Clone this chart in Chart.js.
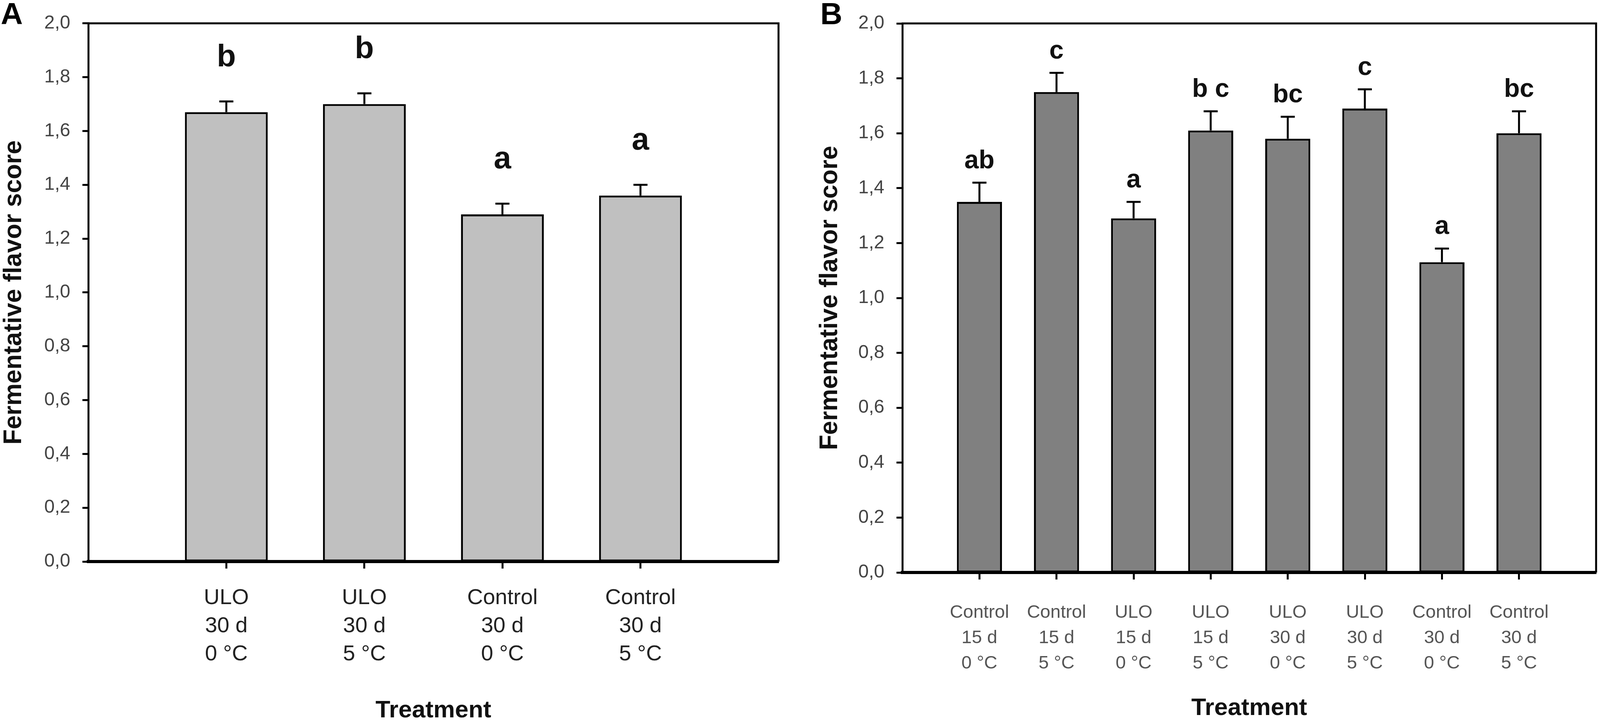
<!DOCTYPE html>
<html>
<head>
<meta charset="utf-8">
<script src="https://cdn.jsdelivr.net/npm/chart.js@4.4.1/dist/chart.umd.min.js"></script>
<style>
  body { margin: 0; background: #fff; overflow: hidden; }
  #page { position: relative; width: 100vw; height: 1854px; overflow: hidden; }
  .panel { position: absolute; top: 0; height: 1854px; }
  .tag { position: absolute; top: -10px; font: bold 78px "Liberation Sans", Arial, sans-serif; color: #000; }
</style>
</head>
<body>
<div id="page">
  <div class="panel" id="boxA"><canvas id="chartA"></canvas></div>
  <div class="panel" id="boxB"><canvas id="chartB"></canvas></div>
  <div class="tag" id="tagA">A</div>
  <div class="tag" id="tagB">B</div>
</div>
<script>
// panel A
const labelsA = [['ULO', '30 d', '0 °C'], ['ULO', '30 d', '5 °C'], ['Control', '30 d', '0 °C'], ['Control', '30 d', '5 °C']];
const meansA = [1.67, 1.70, 1.29, 1.36];
const errA = [0.04, 0.04, 0.04, 0.04];
const lettersA = ['b', 'b', 'a', 'a'];

// panel B
const labelsB = [['Control', '15 d', '0 °C'], ['Control', '15 d', '5 °C'], ['ULO', '15 d', '0 °C'], ['ULO', '15 d', '5 °C'],
                 ['ULO', '30 d', '0 °C'], ['ULO', '30 d', '5 °C'], ['Control', '30 d', '0 °C'], ['Control', '30 d', '5 °C']];
const meansB = [1.35, 1.75, 1.29, 1.61, 1.58, 1.69, 1.13, 1.60];
const errB = [0.07, 0.07, 0.06, 0.07, 0.08, 0.07, 0.05, 0.08];
const lettersB = ['ab', 'c', 'a', 'b c', 'bc', 'c', 'a', 'bc'];

const yTicks = [0, 0.2, 0.4, 0.6, 0.8, 1.0, 1.2, 1.4, 1.6, 1.8, 2.0];
const FONT = '"Liberation Sans", Arial, sans-serif';

// the figure was laid out 4550 wide; squeeze x positions to the real window width
const W = window.innerWidth;
const k = W / 4550;
const splitX = Math.round(2250 * k);

const boxA = document.getElementById('boxA');
boxA.style.left = '0px';
boxA.style.width = splitX + 'px';
const boxB = document.getElementById('boxB');
boxB.style.left = splitX + 'px';
boxB.style.width = (W - splitX) + 'px';
document.getElementById('tagA').style.left = Math.round(2 * k) + 'px';
document.getElementById('tagB').style.left = Math.round(2333 * k) + 'px';

// error bars (upper only), significance letters and the box frame
const errorBars = {
    id: 'errorBars',
    afterDatasetsDraw(chart, args, opts) {
        const ctx = chart.ctx;
        const y = chart.scales.y;
        const meta = chart.getDatasetMeta(0);
        const cap = 20 * k;
        ctx.save();
        ctx.strokeStyle = '#000';
        ctx.lineWidth = 5;
        ctx.fillStyle = '#111';
        ctx.font = 'bold ' + opts.letterSize + 'px ' + FONT;
        ctx.textAlign = 'center';
        ctx.textBaseline = 'alphabetic';
        meta.data.forEach((bar, i) => {
            const top = y.getPixelForValue(opts.means[i] + opts.errs[i]);
            ctx.beginPath();
            ctx.moveTo(bar.x, bar.y);
            ctx.lineTo(bar.x, top);
            ctx.moveTo(bar.x - cap, top);
            ctx.lineTo(bar.x + cap, top);
            ctx.stroke();
            ctx.fillText(opts.letters[i], bar.x, top - opts.gap);
        });
        const a = chart.chartArea;
        ctx.beginPath();
        ctx.moveTo(a.left - 2, a.top);
        ctx.lineTo(a.right, a.top);
        ctx.lineTo(a.right, a.bottom);
        ctx.stroke();
        ctx.restore();
    }
};

function makeChart(id, labels, means, errs, letters, s) {
    const ctx = document.getElementById(id);
    return new Chart(ctx, {
        type: 'bar',
        data: {
            datasets: [{
                data: means.map((v, i) => ({ x: i + 1, y: v })),
                backgroundColor: s.fill,
                borderColor: '#000',
                borderWidth: 5,
                borderSkipped: false,
                barPercentage: s.barPct,
                categoryPercentage: 1
            }]
        },
        options: {
            responsive: true,
            maintainAspectRatio: false,
            devicePixelRatio: 1,
            animation: false,
            layout: { padding: { left: 0, right: s.padRight, top: s.padTop, bottom: 0 } },
            plugins: {
                legend: { display: false },
                tooltip: { enabled: false },
                errorBars: { means: means, errs: errs, letters: letters, letterSize: s.letterSize, gap: s.letterGap }
            },
            scales: {
                x: {
                    type: 'linear',
                    min: 0,
                    max: labels.length + 1,
                    offset: false,
                    afterBuildTicks: sc => { sc.ticks = labels.map((l, i) => ({ value: i + 1 })); },
                    afterFit: sc => { sc.height = s.xHeight; },
                    grid: { drawOnChartArea: false, drawTicks: true, tickLength: 18, tickWidth: 5, tickColor: '#000', offset: false },
                    border: { display: true, color: '#000', width: 8 },
                    ticks: {
                        autoSkip: false,
                        maxRotation: 0,
                        padding: s.xPad,
                        color: s.xColor,
                        font: { family: FONT, size: s.xSize, lineHeight: s.xLine },
                        callback: (v) => labels[Math.round(v) - 1] || ''
                    },
                    title: {
                        display: true,
                        text: 'Treatment',
                        color: '#111',
                        font: { family: FONT, size: 62, weight: 'bold', lineHeight: 1 },
                        padding: { top: 0, bottom: s.xTitlePad }
                    }
                },
                y: {
                    min: 0,
                    max: 2,
                    afterBuildTicks: sc => { sc.ticks = yTicks.map(v => ({ value: v })); },
                    afterFit: sc => { sc.width = s.yWidth; },
                    grid: { drawOnChartArea: false, drawTicks: true, tickLength: 15, tickWidth: 5, tickColor: '#000' },
                    border: { display: true, color: '#000', width: 5 },
                    ticks: {
                        padding: 31,
                        color: '#444',
                        font: { family: FONT, size: 48 },
                        callback: v => v.toFixed(1).replace('.', ',')
                    },
                    title: {
                        display: true,
                        text: 'Fermentative flavor score',
                        color: '#111',
                        font: { family: FONT, size: 64, weight: 'bold', lineHeight: 1 },
                        padding: { top: s.yTitlePad, bottom: 0 }
                    }
                }
            }
        },
        plugins: [errorBars]
    });
}

makeChart('chartA', labelsA, meansA, errA, lettersA, {
    fill: '#c0c0c0', barPct: 0.6, padRight: Math.round(36 * k), padTop: 32, xHeight: 416, yWidth: Math.round(251 * k),
    xPad: 39, xColor: '#222', xSize: 56, xLine: 1.29, xTitlePad: 3, yTitlePad: Math.max(0, Math.round(40 * k) - 32),
    letterSize: 80, letterGap: 90
});

makeChart('chartB', labelsB, meansB, errB, lettersB, {
    fill: '#808080', barPct: 0.585, padRight: Math.round(11 * k), padTop: 60, xHeight: 388, yWidth: Math.round(317 * k),
    xPad: 53, xColor: '#555', xSize: 47, xLine: 1.38, xTitlePad: 9, yTitlePad: Math.round(111 * k) - 32,
    letterSize: 66, letterGap: 37
});
</script>
</body>
</html>
